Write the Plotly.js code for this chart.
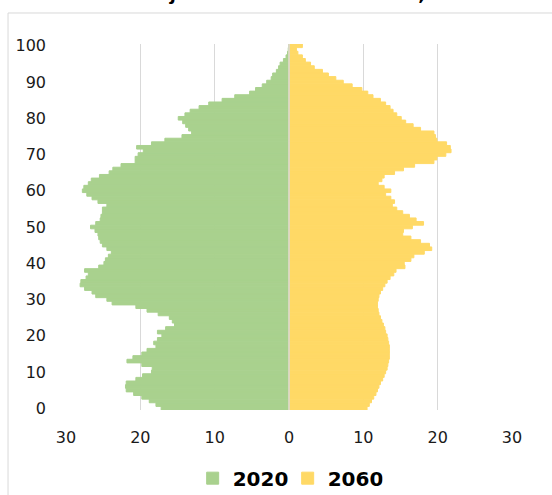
<!DOCTYPE html>
<html>
<head>
<meta charset="utf-8">
<script src="https://cdn.plot.ly/plotly-3.0.1.min.js"></script>
<style>
  html, body { margin: 0; padding: 0; background: #ffffff; overflow: hidden; }
  #chart { width: 552px; height: 495px; }
</style>
</head>
<body>
<div id="chart"></div>
<script>
// Age categories (0 .. 100)
const ages = [0,1,2,3,4,5,6,7,8,9,10,11,12,13,14,15,16,17,18,19,20,
  21,22,23,24,25,26,27,28,29,30,31,32,33,34,35,36,37,38,39,40,
  41,42,43,44,45,46,47,48,49,50,51,52,53,54,55,56,57,58,59,60,
  61,62,63,64,65,66,67,68,69,70,71,72,73,74,75,76,77,78,79,80,
  81,82,83,84,85,86,87,88,89,90,91,92,93,94,95,96,97,98,99,100];

// Series 2020 (drawn to the left), values per age
const pop2020 = [17.2,17.9,18.8,19.8,20.9,21.9,22.0,21.9,20.6,19.7,
  18.5,18.4,19.8,21.8,21.0,19.8,19.1,17.9,18.2,17.7,
  17.1,17.7,16.6,15.4,15.7,16.1,17.6,19.1,20.6,23.8,
  24.5,26.0,26.5,27.5,28.1,28.0,27.3,27.0,27.5,25.6,
  24.9,24.7,24.3,23.9,24.5,25.1,25.4,25.6,25.7,26.1,
  26.7,26.0,25.4,25.3,25.1,25.1,24.5,25.7,26.5,27.2,
  27.8,27.6,27.0,26.6,25.5,24.2,23.7,22.6,20.7,20.7,
  20.3,19.6,20.5,18.5,16.7,14.4,13.1,13.5,13.9,14.3,
  14.9,14.0,13.3,12.1,10.8,9.0,7.3,5.3,4.5,3.6,
  3.0,2.4,2.2,1.7,1.4,1.2,0.75,0.4,0.2,0.1,0.05];

// Series 2060 (drawn to the right), values per age
const pop2060 = [10.5,10.8,11.1,11.4,11.7,11.9,12.1,12.3,12.6,12.8,
  13.0,13.2,13.3,13.4,13.5,13.5,13.5,13.5,13.4,13.3,
  13.2,13.0,12.9,12.7,12.5,12.3,12.1,12.0,11.9,11.9,
  12.0,12.1,12.3,12.6,12.9,13.2,13.6,14.1,14.4,15.6,
  15.5,16.4,16.8,18.2,19.2,18.9,17.7,16.4,15.3,15.4,
  16.6,18.1,17.1,16.2,15.3,14.5,13.9,14.2,13.7,13.0,
  13.7,12.8,12.0,12.5,12.8,14.2,15.4,16.9,19.5,19.9,
  21.1,21.8,21.7,21.2,19.9,19.7,19.5,17.7,16.7,15.7,
  15.1,14.5,14.0,13.6,13.0,12.3,11.3,10.6,9.8,8.5,
  7.3,6.3,5.3,4.5,3.4,2.9,2.2,1.8,1.2,1.0,1.8];

const seriesNames = ["2020", "2060"];
const xTickVals = [-30, -20, -10, 0, 10, 20, 30];
const xTickText = ["30", "20", "10", "0", "10", "20", "30"];
const yTickVals = [0, 10, 20, 30, 40, 50, 60, 70, 80, 90, 100];
const titleText = "Ikäjakauma Ahvenanmaalla, osuus";

const green = "#A9D18E";
const yellow = "#FFD966";

const traces = [
  {
    type: "bar", orientation: "h", name: seriesNames[0],
    y: ages, x: pop2020.map(v => -v),
    marker: { color: green, line: { color: green, width: 1 } },
    hoverinfo: "skip"
  },
  {
    type: "bar", orientation: "h", name: seriesNames[1],
    y: ages, x: pop2060,
    marker: { color: yellow, line: { color: yellow, width: 1 } },
    hoverinfo: "skip"
  }
];

const font = "DejaVu Sans, Verdana, sans-serif";

const layout = {
  width: 552, height: 495,
  margin: { l: 66, r: 40, t: 44, b: 85, autoexpand: false },
  paper_bgcolor: "#ffffff", plot_bgcolor: "#ffffff",
  barmode: "overlay", bargap: 0,
  showlegend: true,
  legend: {
    orientation: "h", x: 0.284, xanchor: "left",
    yref: "container", y: 0.034, yanchor: "middle",
    font: { family: font, size: 20, color: "#000000", weight: "bold" },
    traceorder: "normal", itemwidth: 30,
    entrywidth: 50, entrywidthmode: "pixels"
  },
  xaxis: {
    range: [-30, 30], tickmode: "array", tickvals: xTickVals, ticktext: xTickText,
    showgrid: true, gridcolor: "#d9d9d9", gridwidth: 1.5,
    zeroline: false, showline: false, ticks: "",
    ticklabelstandoff: 16, automargin: false,
    tickfont: { family: font, size: 16, color: "#1a1a1a" }, fixedrange: true
  },
  yaxis: {
    range: [-0.5, 100.5], tickmode: "array", tickvals: yTickVals,
    showgrid: false, zeroline: false, showline: false, ticks: "",
    ticklabelstandoff: 19, automargin: false,
    tickfont: { family: font, size: 16, color: "#1a1a1a" }, fixedrange: true
  },
  shapes: [
    { type: "line", xref: "x", yref: "paper", x0: 0, x1: 0, y0: 0, y1: 1,
      line: { color: "#d9d9d9", width: 1.5 }, layer: "above" },
    { type: "rect", xref: "paper", yref: "paper", x0: -0.13, x1: 1.2, y0: -0.3, y1: 1.0847,
      line: { color: "#d9d9d9", width: 1 }, fillcolor: "rgba(0,0,0,0)", layer: "below" }
  ],
  annotations: [
    { text: titleText, xref: "paper", yref: "paper", x: 0.558, y: 1.104, xanchor: "center", yanchor: "bottom",
      showarrow: false, font: { family: font, size: 18, color: "#000000", weight: "bold" } }
  ]
};

Plotly.newPlot("chart", traces, layout, { displayModeBar: false, staticPlot: true });
</script>
</body>
</html>
